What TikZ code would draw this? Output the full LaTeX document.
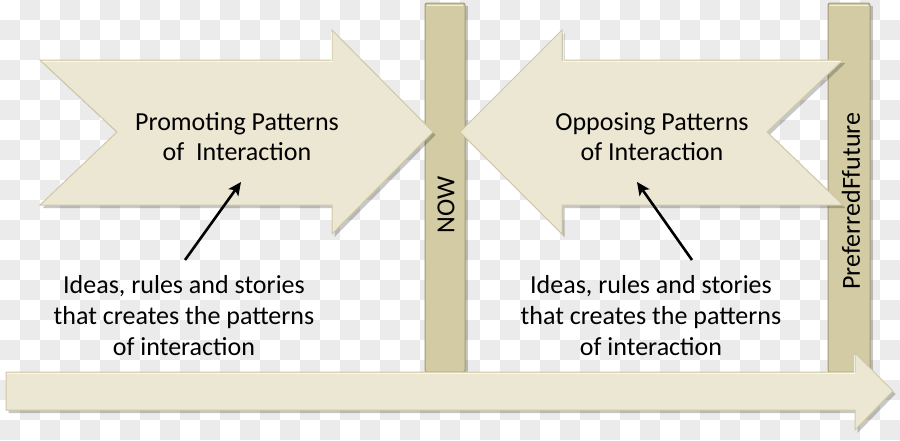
\documentclass[tikz,border=0pt]{standalone}
\usepackage{fontspec}
\setmainfont{Carlito}
\usetikzlibrary{arrows.meta}
\definecolor{arrowfill}{HTML}{ECE7D2}
\definecolor{arrowedge}{HTML}{CFC8A6}
\definecolor{barfill}{HTML}{D2CBA3}
\definecolor{baredge}{HTML}{A39B78}
\definecolor{checker}{HTML}{EBEBEB}
\tikzset{
  shapeshadow/.style={fill=black, opacity=0.22, shift={(2.5,3)}},
  bigarrow/.style={fill=arrowfill, draw=arrowedge, line width=1pt, line join=miter},
  highlight/.style={draw=white, opacity=0.7, line width=1pt},
  barbox/.style={fill=barfill, draw=baredge, line width=1pt, rounded corners=2pt},
  pointer/.style={draw=black, line width=2.6pt, -{Stealth[length=13pt,width=12pt,inset=3pt]}},
  lbl/.style={font=\fontsize{26}{30}\selectfont, align=center, inner sep=0pt},
  note/.style={font=\fontsize{26}{31}\selectfont, align=center, inner sep=0pt},
  vlbl/.style={font=\fontsize{26}{30}\selectfont, rotate=90, inner sep=0pt}
}
\begin{document}
\begin{tikzpicture}[x=1pt,y=-1pt]
\useasboundingbox (0,0) rectangle (900,440);
\fill[white] (0,0) rectangle (900,440);
\foreach \j in {0,...,21}{
  \foreach \i in {0,2,...,44}{
    \fill[checker] ({(\i+mod(\j+1,2))*20},{\j*20}) rectangle ++(20,20);
  }
}
% vertical bars
\fill[shapeshadow] (425,3) rectangle (465,372);
\draw[barbox] (425,3) rectangle (465,372);
\draw[highlight] (427,5) -- (463,5);
\fill[shapeshadow] (828,3) rectangle (870,372);
\draw[barbox] (828,3) rectangle (870,372);
\draw[highlight] (830,5) -- (868,5);
% left big arrow
\fill[shapeshadow] (40,60) -- (332,60) -- (332,30) -- (433,132) -- (332,234) -- (332,205) -- (40,205) -- (117,132) -- cycle;
\draw[bigarrow] (40,60) -- (332,60) -- (332,30) -- (433,132) -- (332,234) -- (332,205) -- (40,205) -- (117,132) -- cycle;
\draw[highlight] (42,61) -- (331,61) -- (331,32);
% right big arrow
\fill[shapeshadow] (843,60) -- (562,60) -- (562,30) -- (460,132) -- (562,234) -- (562,205) -- (843,205) -- (767,132) -- cycle;
\draw[bigarrow] (843,60) -- (562,60) -- (562,30) -- (460,132) -- (562,234) -- (562,205) -- (843,205) -- (767,132) -- cycle;
\draw[highlight] (841,61) -- (563,61) -- (563,32);
% bottom arrow
\fill[shapeshadow] (6,372) -- (855,372) -- (855,353) -- (893,391) -- (855,430) -- (855,410) -- (6,410) -- cycle;
\draw[bigarrow] (6,372) -- (855,372) -- (855,353) -- (893,391) -- (855,430) -- (855,410) -- (6,410) -- cycle;
\draw[highlight] (7,373) -- (854,373) -- (854,355);
% labels
\node[lbl] (promo) at (237,137) {Promoting Patterns\\of~~Interaction};
\node[lbl] (oppo) at (652,137) {Opposing Patterns\\of Interaction};
\node[note] (ideasL) at (184,316) {Ideas, rules and stories\\that creates the patterns\\of interaction};
\node[note] (ideasR) at (651,316) {Ideas, rules and stories\\that creates the patterns\\of interaction};
\node[vlbl] (now) at (446,205) {NOW};
\node[vlbl] (pref) at (851,201) {PreferredFfuture};
% pointers
\coordinate (pL1) at (185,260);
\coordinate (pL2) at (241,182);
\coordinate (pR1) at (692,260);
\coordinate (pR2) at (637,182);
\draw[pointer] (pL1) -- (pL2);
\draw[pointer] (pR1) -- (pR2);
\end{tikzpicture}
\end{document}
